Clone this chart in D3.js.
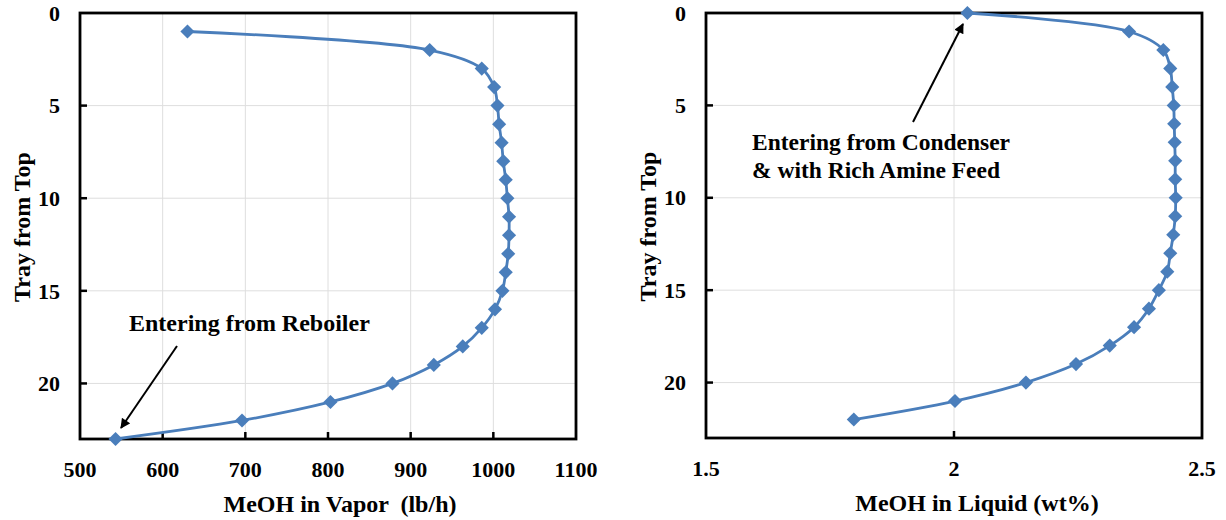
<!DOCTYPE html>
<html>
<head>
<meta charset="utf-8">
<script src="https://cdn.jsdelivr.net/npm/d3@7"></script>
<style>
body { margin: 0; background: #fff; }
svg text { font-family: "Liberation Serif", "Times New Roman", serif; font-weight: bold; fill: #000; }
</style>
</head>
<body>
<svg id="chart" width="1226" height="520"></svg>
<script>
// left panel: vapor
var vaporTray = [1, 2, 3, 4, 5, 6, 7, 8, 9, 10, 11, 12, 13, 14, 15, 16, 17, 18, 19, 20, 21, 22, 23];
var vaporMeOH = [630, 923, 986, 1001, 1005, 1007, 1010, 1012, 1015, 1017, 1019, 1019, 1018, 1015, 1011, 1002, 986, 963, 928, 878, 803, 696, 543];
var vaporTicks = [500, 600, 700, 800, 900, 1000, 1100];

// right panel: liquid
var liquidTray = [0, 1, 2, 3, 4, 5, 6, 7, 8, 9, 10, 11, 12, 13, 14, 15, 16, 17, 18, 19, 20, 21, 22];
var liquidMeOH = [2.027, 2.353, 2.422, 2.436, 2.440, 2.443, 2.444, 2.445, 2.446, 2.446, 2.447, 2.446, 2.442, 2.436, 2.430, 2.413, 2.393, 2.363, 2.314, 2.246, 2.145, 2.002, 1.798];
var liquidTicks = [1.5, 2, 2.5];

var trayTicks = [0, 5, 10, 15, 20];

var blue = "#4A7EBB";
var svg = d3.select("#chart");

svg.append("defs").append("marker")
	.attr("id", "arrow")
	.attr("viewBox", "0 0 10 10")
	.attr("refX", 9).attr("refY", 5)
	.attr("markerWidth", 5.5).attr("markerHeight", 5)
	.attr("markerUnits", "strokeWidth")
	.attr("orient", "auto")
	.append("path").attr("d", "M0,0 L10,5 L0,10 Z").attr("fill", "#000");

function drawPanel(opt){
	var x = d3.scaleLinear().domain(opt.xDomain).range([opt.left, opt.right]);
	var y = d3.scaleLinear().domain([0, 23]).range([opt.top, opt.bottom]);
	var g = svg.append("g");

	// gridlines
	g.selectAll(".vgrid").data(opt.vGrid).enter().append("line")
		.attr("x1", function(d){ return x(d); }).attr("x2", function(d){ return x(d); })
		.attr("y1", opt.top).attr("y2", opt.bottom)
		.attr("stroke", "#dedede").attr("stroke-width", 1);
	g.selectAll(".hgrid").data(trayTicks.slice(1)).enter().append("line")
		.attr("x1", opt.left).attr("x2", opt.right)
		.attr("y1", function(d){ return y(d); }).attr("y2", function(d){ return y(d); })
		.attr("stroke", "#dedede").attr("stroke-width", 1);

	// inside ticks
	g.selectAll(".ytick").data(trayTicks.slice(1)).enter().append("line")
		.attr("x1", opt.left).attr("x2", opt.left + 7)
		.attr("y1", function(d){ return y(d); }).attr("y2", function(d){ return y(d); })
		.attr("stroke", "#000").attr("stroke-width", 2.5);
	g.selectAll(".xtick").data(opt.xTicks.slice(1, -1)).enter().append("line")
		.attr("x1", function(d){ return x(d); }).attr("x2", function(d){ return x(d); })
		.attr("y1", opt.bottom).attr("y2", opt.bottom - 7)
		.attr("stroke", "#000").attr("stroke-width", 2.5);

	// frame
	g.append("rect")
		.attr("x", opt.left).attr("y", opt.top)
		.attr("width", opt.right - opt.left).attr("height", opt.bottom - opt.top)
		.attr("fill", "none").attr("stroke", "#000").attr("stroke-width", 2.8);

	// tick labels
	g.selectAll(".ylab").data(trayTicks).enter().append("text")
		.attr("x", opt.left - 20).attr("y", function(d){ return y(d); })
		.attr("dy", "0.35em").attr("text-anchor", "end")
		.style("font-size", "22px").text(function(d){ return d; });
	g.selectAll(".xlab").data(opt.xTicks).enter().append("text")
		.attr("x", function(d){ return x(d); }).attr("y", opt.bottom + 30)
		.attr("dy", "0.35em").attr("text-anchor", "middle")
		.style("font-size", "22px").text(function(d){ return d; });

	// axis titles
	g.append("text")
		.attr("transform", "translate(" + (opt.left - 58) + "," + ((opt.top + opt.bottom) / 2 + 1) + ") rotate(-90)")
		.attr("dy", "0.35em").attr("text-anchor", "middle")
		.style("font-size", "24px").text("Tray from Top");
	g.append("text")
		.attr("x", opt.titleX).attr("y", opt.bottom + 73)
		.attr("text-anchor", "middle").attr("xml:space", "preserve")
		.style("font-size", "24px").text(opt.xTitle);

	// series
	var pts = opt.trays.map(function(t, i){ return [opt.values[i], t]; });
	var line = d3.line()
		.x(function(d){ return x(d[0]); })
		.y(function(d){ return y(d[1]); })
		.curve(d3.curveCatmullRom.alpha(0.5));
	g.append("path").datum(pts)
		.attr("d", line).attr("fill", "none")
		.attr("stroke", blue).attr("stroke-width", 2.8);
	g.selectAll(".pt").data(pts).enter().append("path")
		.attr("d", d3.symbol(d3.symbolSquare, 100))
		.attr("transform", function(d){ return "translate(" + x(d[0]) + "," + y(d[1]) + ") rotate(45)"; })
		.attr("fill", blue);

	// annotation
	var a = opt.note;
	g.selectAll(".note").data(a.lines).enter().append("text")
		.attr("x", a.tx).attr("y", function(d, i){ return a.ty + i * 28; })
		.attr("text-anchor", a.anchor)
		.style("font-size", a.size).text(function(d){ return d; });
	g.append("line")
		.attr("x1", a.from[0]).attr("y1", a.from[1])
		.attr("x2", a.to[0]).attr("y2", a.to[1])
		.attr("stroke", "#000").attr("stroke-width", 2)
		.attr("marker-end", "url(#arrow)");
}

drawPanel({
	left: 80, right: 576, top: 13, bottom: 439,
	xDomain: [500, 1100], xTicks: vaporTicks, vGrid: [600, 700, 800, 900, 1000],
	trays: vaporTray, values: vaporMeOH,
	xTitle: "MeOH in Vapor  (lb/h)", titleX: 340,
	note: { lines: ["Entering from Reboiler"], tx: 129, ty: 331, anchor: "start", size: "24px",
		from: [177, 346], to: [121, 428] }
});

drawPanel({
	left: 706, right: 1202, top: 13, bottom: 438,
	xDomain: [1.5, 2.5], xTicks: liquidTicks, vGrid: [2],
	trays: liquidTray, values: liquidMeOH,
	xTitle: "MeOH in Liquid (wt%)", titleX: 977,
	note: { lines: ["Entering from Condenser", "& with Rich Amine Feed"], tx: 752, ty: 150, anchor: "start", size: "23.5px",
		from: [913, 122], to: [963, 24] }
});
</script>
</body>
</html>
